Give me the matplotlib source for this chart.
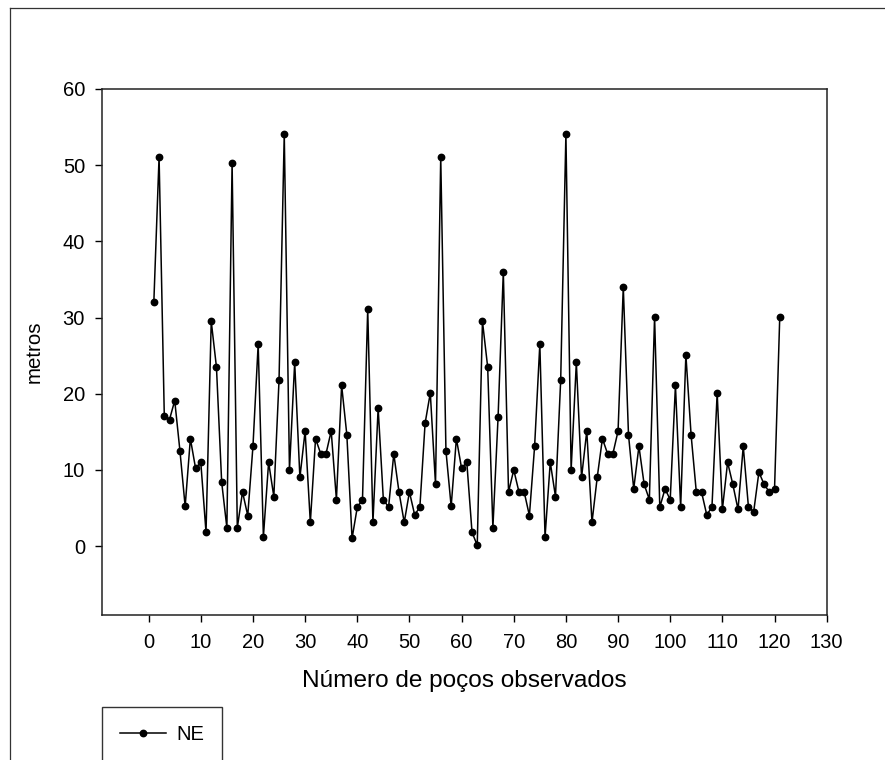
import matplotlib
matplotlib.use("Agg")
import matplotlib.pyplot as plt
from matplotlib.lines import Line2D

plt.rcParams['font.family'] = ['Liberation Sans', 'DejaVu Sans']

# Data
pocos = list(range(1, 122))
ne_metros = [
    32.1, 51.1, 17.1, 16.6, 19.1, 12.5, 5.2, 14.1, 10.2, 11.0,
    1.8, 29.5, 23.5, 8.4, 2.4, 50.3, 2.4, 7.1, 4.0, 13.1,
    26.5, 1.2, 11.0, 6.5, 21.8, 54.1, 10.0, 24.1, 9.0, 15.1,
    3.1, 14.1, 12.1, 12.1, 15.1, 6.1, 21.1, 14.6, 1.0, 5.1,
    6.1, 31.1, 3.1, 18.1, 6.1, 5.1, 12.1, 7.1, 3.1, 7.1,
    4.1, 5.1, 16.1, 20.1, 8.1, 51.1, 12.5, 5.2, 14.1, 10.2,
    11.0, 1.8, 0.1, 29.5, 23.5, 2.4, 17.0, 36.0, 7.1, 10.0,
    7.1, 7.1, 4.0, 13.1, 26.5, 1.2, 11.0, 6.5, 21.8, 54.1,
    10.0, 24.1, 9.0, 15.1, 3.1, 9.0, 14.1, 12.1, 12.1, 15.1,
    34.0, 14.6, 7.5, 13.1, 8.1, 6.1, 30.1, 5.1, 7.5, 6.1,
    21.1, 5.1, 25.1, 14.6, 7.1, 7.1, 4.1, 5.1, 20.1, 4.8,
    11.0, 8.1, 4.8, 13.1, 5.1, 4.5, 9.7, 8.1, 7.1, 7.5,
    30.1,
]
xticks = list(range(0, 131, 10))
yticks = list(range(0, 61, 10))
series_label = "NE"
xlabel = "Número de poços observados"
ylabel = "metros"

W, H = 885, 760
fig = plt.figure(figsize=(W / 100, H / 100), dpi=100)
ax = fig.add_axes([101.7 / W, 1 - 614.6 / H, (826.7 - 101.7) / W, (614.6 - 89.0) / H])

ax.plot(pocos, ne_metros, color='black', linewidth=1.1, marker='o',
        markersize=4.6, markerfacecolor='black', markeredgecolor='black',
        label=series_label)

ax.set_xlim(-9, 130)
ax.set_ylim(-9, 60)
ax.set_xticks(xticks)
ax.set_yticks(yticks)
ax.tick_params(axis='both', direction='out', length=5, width=1, colors='black',
               labelsize=14.5)
ax.tick_params(axis='x', pad=8)
ax.tick_params(axis='y', pad=7)
for s in ax.spines.values():
    s.set_linewidth(1.1)
    s.set_color('#222222')

ax.set_xlabel(xlabel, fontsize=17.6)
ax.set_ylabel(ylabel, fontsize=14.8)
ax.xaxis.set_label_coords(0.5, -0.105)
ax.yaxis.set_label_coords(-0.08, 0.5)

leg = ax.legend(loc='upper left', bbox_to_anchor=(101.7 / W, 1 - 706.7 / H),
                bbox_transform=fig.transFigure, borderaxespad=0,
                fancybox=False, frameon=True, fontsize=14.5,
                handlelength=2.3, handletextpad=0.5, borderpad=0.9,
                numpoints=1)
leg.get_frame().set_edgecolor('black')
leg.get_frame().set_linewidth(1.0)

# outer frame (left and top edges)
fig.add_artist(Line2D([9.5 / W, 9.5 / W], [0, 1 - 8.3 / H], transform=fig.transFigure,
                      color='#333333', linewidth=0.9))
fig.add_artist(Line2D([9.5 / W, 1], [1 - 8.3 / H, 1 - 8.3 / H], transform=fig.transFigure,
                      color='#333333', linewidth=0.9))

fig.savefig('out.png', dpi=100)
